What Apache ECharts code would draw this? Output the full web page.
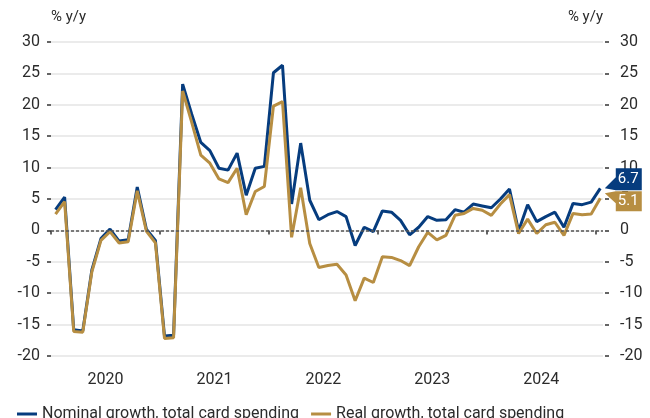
<!DOCTYPE html>
<html>
<head>
<meta charset="utf-8">
<script src="https://cdn.jsdelivr.net/npm/echarts@6/dist/echarts.min.js"></script>
<style>
  html, body { margin: 0; padding: 0; background: #fff; }
  #chart { width: 650px; height: 418px; }
</style>
</head>
<body>
<div id="chart"></div>
<script>
// monthly, Jan 2020 .. Jan 2025
var years = ['2020', '2021', '2022', '2023', '2024']
var yearTicks = [0, 12, 24, 36, 48, 60]
var yearLabelPos = [6, 18, 30, 42, 54]

var nominal = [
  3.3, 5.3, -15.8, -16.0, -6.3, -1.3, 0.2, -1.7, -1.5, 6.9, 0.2, -1.6,
  -16.8, -16.7, 23.3, 18.5, 14.0, 12.7, 9.9, 9.6, 12.3, 5.6, 9.9, 10.2,
  25.1, 26.3, 4.2, 13.9, 4.8, 1.7, 2.5, 3.0, 2.2, -2.4, 0.5, -0.2,
  3.1, 2.9, 1.6, -0.7, 0.5, 2.2, 1.6, 1.7, 3.3, 2.9, 4.2, 3.9,
  3.6, 5.0, 6.6, -0.1, 4.1, 1.4, 2.2, 2.9, 0.5, 4.3, 4.1, 4.5,
  6.7
]
var real = [
  2.6, 4.6, -16.1, -16.2, -6.6, -1.6, -0.2, -2.0, -1.8, 6.3, -0.1, -2.0,
  -17.2, -17.1, 22.2, 17.2, 12.0, 10.7, 8.2, 7.6, 9.9, 2.5, 6.2, 7.0,
  19.8, 20.5, -1.1, 6.8, -2.1, -5.9, -5.6, -5.4, -7.1, -11.2, -7.6, -8.3,
  -4.2, -4.3, -4.8, -5.6, -2.6, -0.3, -1.5, -0.8, 2.4, 2.7, 3.5, 3.2,
  2.4, 4.2, 5.7, -0.5, 1.8, -0.5, 0.9, 1.3, -0.8, 2.7, 2.5, 2.6,
  5.1
]

var blue = '#063c7e'
var gold = '#b78e42'
var textColor = '#2b2b2b'
var font = 'Roboto'

function toPoints(arr) {
  return arr.map(function (v, i) { return [i + 0.5, v] })
}

var last = nominal.length - 1

var chart = echarts.init(document.getElementById('chart'))
chart.setOption({
  animation: false,
  textStyle: { fontFamily: font },
  title: [
    { text: '% y/y', left: 51, top: 10, padding: 0, textStyle: { fontSize: 15, fontWeight: 'normal', color: textColor } },
    { text: '% y/y', right: 47, top: 10, padding: 0, textStyle: { fontSize: 15, fontWeight: 'normal', color: textColor } }
  ],
  grid: { left: 51, right: 47, top: 42, bottom: 62 },
  legend: {
    left: 12,
    top: 401,
    itemWidth: 20,
    itemHeight: 3,
    itemGap: 12,
    icon: 'rect',
    textStyle: { fontSize: 16, color: textColor, fontFamily: font },
    data: ['Nominal growth, total card spending', 'Real growth, total card spending']
  },
  xAxis: {
    type: 'value',
    min: 0,
    max: 60.8,
    offset: 7,
    axisLine: { show: false },
    splitLine: { show: false },
    axisTick: {
      show: true,
      customValues: yearTicks,
      length: 4,
      lineStyle: { color: '#333', width: 1.5 }
    },
    axisLabel: {
      customValues: yearLabelPos,
      fontSize: 16,
      color: textColor,
      margin: 9,
      formatter: function (v) { return years[Math.round((v - 6) / 12)] }
    }
  },
  yAxis: [
    {
      type: 'value',
      position: 'left',
      min: -20,
      max: 30,
      interval: 5,
      axisLine: { show: false },
      axisTick: { show: true, length: 4, lineStyle: { color: '#333', width: 1.5 } },
      axisLabel: { fontSize: 16, color: textColor, margin: 11 },
      splitLine: { show: true, lineStyle: { color: '#e4e4e4', width: 1.5 } }
    },
    {
      type: 'value',
      position: 'right',
      min: -20,
      max: 30,
      interval: 5,
      offset: 2,
      axisLine: { show: false },
      axisTick: { show: true, length: 4, lineStyle: { color: '#333', width: 1.5 } },
      axisLabel: { fontSize: 16, color: textColor, margin: 15 },
      splitLine: { show: false }
    }
  ],
  series: [
    {
      name: 'Nominal growth, total card spending',
      type: 'line',
      data: toPoints(nominal),
      showSymbol: false,
      color: blue,
      lineStyle: { width: 3, color: blue },
      markLine: {
        silent: true,
        symbol: 'none',
        label: { show: false },
        lineStyle: { color: '#555', type: [3, 2], width: 1.5 },
        data: [{ yAxis: 0 }]
      },
      markPoint: {
        symbol: 'path://M0,20 L11,9 L11,0 L37,0 L37,22 L11,22 Z',
        symbolSize: [37, 22],
        symbolOffset: [23, -9],
        itemStyle: { color: blue },
        label: {
          show: true,
          color: '#fff',
          fontSize: 15,
          offset: [5, 0],
          formatter: function (p) { return p.value.toFixed(1) }
        },
        data: [{ coord: [last + 0.5, nominal[last]], value: nominal[last] }]
      }
    },
    {
      name: 'Real growth, total card spending',
      type: 'line',
      data: toPoints(real),
      showSymbol: false,
      color: gold,
      lineStyle: { width: 3, color: gold },
      markPoint: {
        symbol: 'path://M0,2 L11,0 L37,0 L37,20 L11,20 L11,12 Z',
        symbolSize: [37, 20],
        symbolOffset: [23, 3],
        itemStyle: { color: gold },
        label: {
          show: true,
          color: '#fff',
          fontSize: 15,
          offset: [5, 0],
          formatter: function (p) { return p.value.toFixed(1) }
        },
        data: [{ coord: [last + 0.5, real[last]], value: real[last] }]
      }
    }
  ]
})
</script>
</body>
</html>
